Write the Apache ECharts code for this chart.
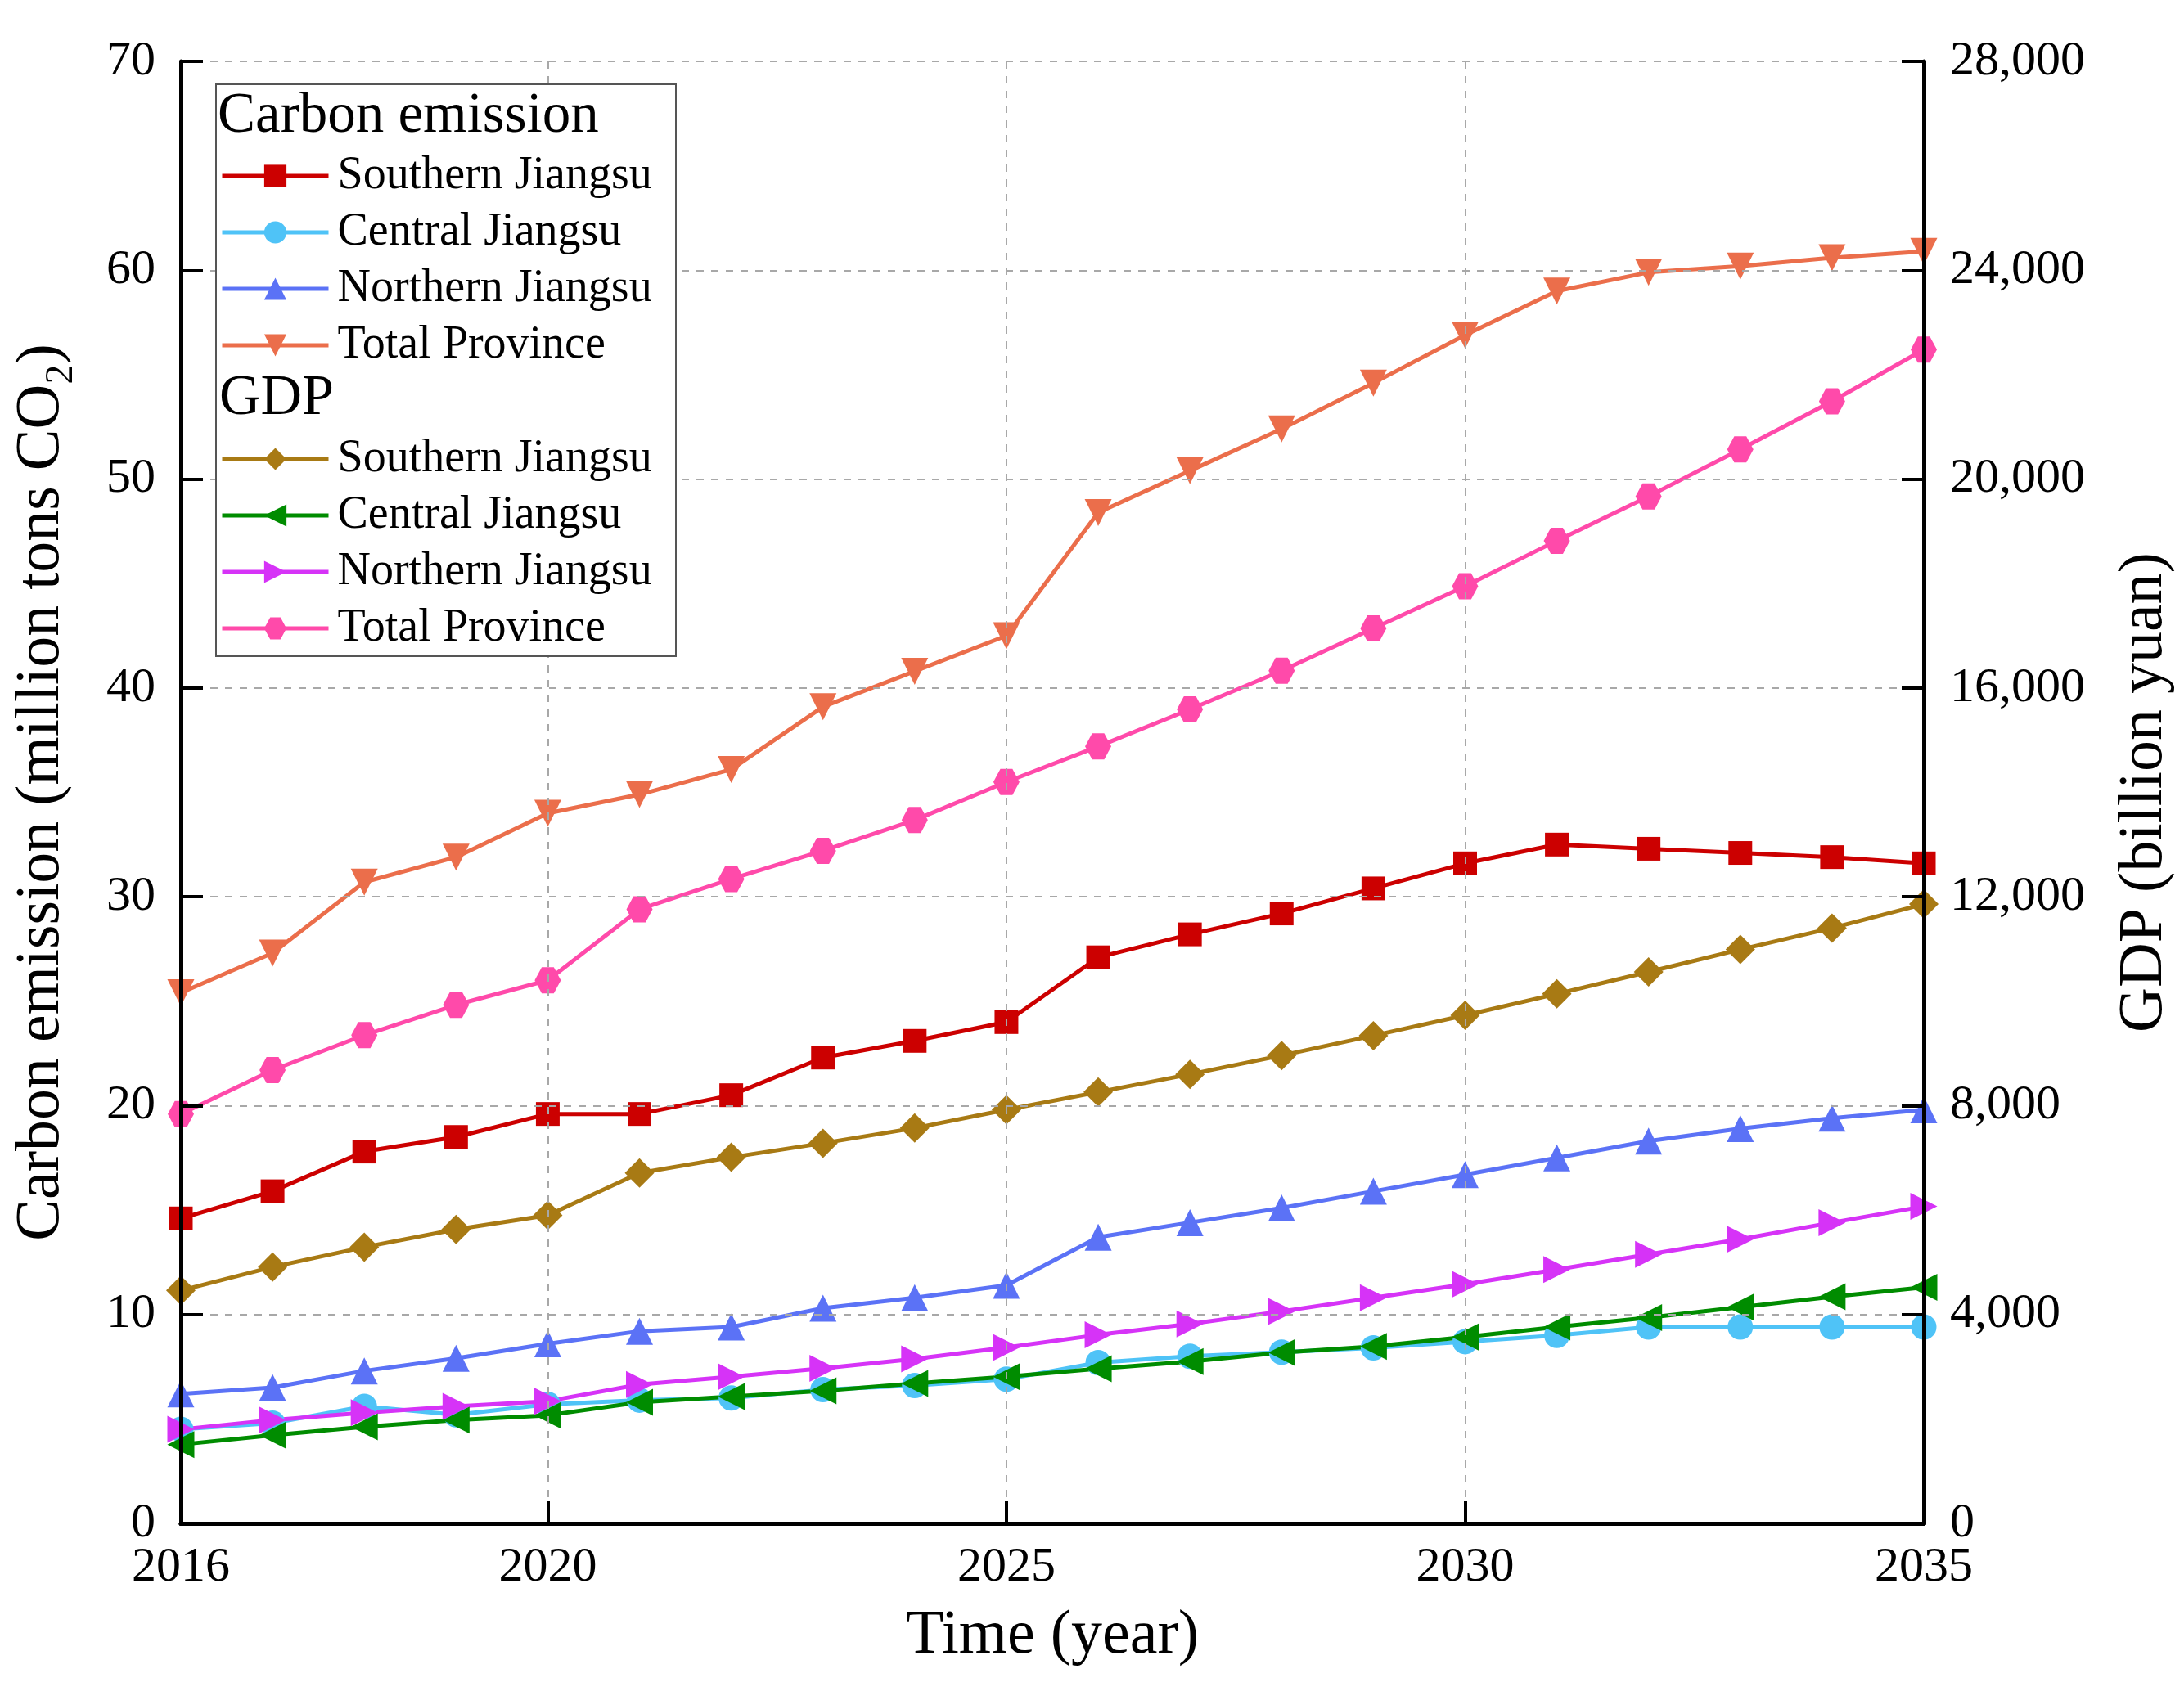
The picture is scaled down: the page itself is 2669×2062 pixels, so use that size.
<!DOCTYPE html>
<html>
<head>
<meta charset="utf-8">
<script src="https://cdn.jsdelivr.net/npm/echarts@6/dist/echarts.min.js"></script>
<style>html,body{margin:0;padding:0;background:#fff}#c{width:2669px;height:2062px}</style>
</head>
<body>
<div id="c"></div>
<script>
const years = ['2016','2017','2018','2019','2020','2021','2022','2023','2024','2025','2026','2027','2028','2029','2030','2031','2032','2033','2034','2035'];
const labeledYears = ['2016','2020','2025','2030','2035'];

// Carbon emission (million tons CO2)
const carbonSouth = [14.6, 15.9, 17.8, 18.5, 19.6, 19.6, 20.5, 22.3, 23.1, 24.0, 27.1, 28.2, 29.2, 30.4, 31.6, 32.5, 32.3, 32.1, 31.9, 31.6];
const carbonCentral = [4.5, 4.8, 5.6, 5.2, 5.7, 5.9, 6.0, 6.4, 6.6, 6.9, 7.7, 8.0, 8.2, 8.4, 8.7, 9.0, 9.4, 9.4, 9.4, 9.4];
const carbonNorth = [6.2, 6.5, 7.3, 7.9, 8.6, 9.2, 9.4, 10.3, 10.8, 11.4, 13.7, 14.4, 15.1, 15.9, 16.7, 17.5, 18.3, 18.9, 19.4, 19.8];
const carbonTotal = [25.4, 27.3, 30.7, 31.9, 34.0, 34.9, 36.1, 39.1, 40.8, 42.5, 48.4, 50.4, 52.4, 54.6, 56.9, 59.0, 59.9, 60.2, 60.6, 60.9];

// GDP (billion yuan)
const gdpSouth = [4460, 4910, 5290, 5630, 5900, 6710, 7010, 7280, 7570, 7920, 8260, 8600, 8960, 9340, 9730, 10140, 10560, 10990, 11400, 11860];
const gdpCentral = [1510, 1690, 1850, 1980, 2070, 2320, 2430, 2540, 2680, 2810, 2960, 3100, 3270, 3390, 3570, 3760, 3940, 4140, 4340, 4520];
const gdpNorth = [1800, 1980, 2120, 2240, 2340, 2660, 2810, 2970, 3150, 3370, 3610, 3820, 4060, 4320, 4580, 4860, 5150, 5440, 5760, 6070];
const gdpTotal = [7840, 8680, 9350, 9930, 10400, 11760, 12340, 12880, 13470, 14200, 14880, 15590, 16330, 17140, 17950, 18820, 19670, 20570, 21490, 22480];

const leftTicks = [0, 10, 20, 30, 40, 50, 60, 70];
const rightTicks = [0, 4000, 8000, 12000, 16000, 20000, 24000, 28000];

const FONT = '"Liberation Serif", "Times New Roman", serif';
const hexagon = 'path://M0,500 L270,0 L730,0 L1000,500 L730,1000 L270,1000 Z';

function mk(name, data, color, symbol, rotate, axis, size) {
  return {
    name: name, type: 'line', data: data, yAxisIndex: axis,
    symbol: symbol, symbolRotate: rotate, symbolSize: size, showSymbol: true,
    lineStyle: {color: color, width: 5},
    itemStyle: {color: color, borderWidth: 0},
    emphasis: {disabled: true},
    z: 3,
    animation: false
  };
}

const series = [
  mk('Southern Jiangsu', carbonSouth, '#CC0000', 'rect', 0, 0, 29),
  mk('Central Jiangsu', carbonCentral, '#4FC3F7', 'circle', 0, 0, 31),
  mk('Northern Jiangsu', carbonNorth, '#5B72F6', 'triangle', 0, 0, 33),
  mk('Total Province', carbonTotal, '#EB6E4B', 'triangle', 180, 0, 33),
  mk('GDP Southern Jiangsu', gdpSouth, '#A87A14', 'diamond', 0, 1, 36),
  mk('GDP Central Jiangsu', gdpCentral, '#008C00', 'triangle', 90, 1, 33),
  mk('GDP Northern Jiangsu', gdpNorth, '#D633F7', 'triangle', -90, 1, 33),
  mk('GDP Total Province', gdpTotal, '#FF4AAA', hexagon, 0, 1, 32)
];

const fmtComma = v => String(v).replace(/\B(?=(\d{3})+(?!\d))/g, ',');
const showYear = (i, v) => labeledYears.indexOf(v) >= 0;

const legendText = {fontFamily: FONT, fontSize: 56, color: '#000', lineHeight: 60, padding: [0, 0, 0, 6]};

const chart = echarts.init(document.getElementById('c'), null, {renderer: 'canvas'});
chart.setOption({
  backgroundColor: '#fff',
  animation: false,
  grid: {left: 221, right: 318, top: 75, bottom: 200, show: false, containLabel: false},
  xAxis: [
    {
      type: 'category', data: years, boundaryGap: false, position: 'bottom',
      axisLine: {lineStyle: {color: '#000', width: 5}},
      axisTick: {inside: true, length: 27, interval: showYear, lineStyle: {color: '#000', width: 4}},
      axisLabel: {interval: showYear, fontFamily: FONT, fontSize: 60, color: '#000', margin: 24},
      splitLine: {show: true, interval: showYear, lineStyle: {color: '#A8A8A8', width: 2, type: [9, 9]}},
      name: 'Time (year)', nameLocation: 'middle', nameGap: 100,
      nameTextStyle: {fontFamily: FONT, fontSize: 76, color: '#000'},
      z: 5
    },
    {
      type: 'category', data: years, boundaryGap: false, position: 'top',
      axisLine: {show: true, lineStyle: {color: '#000', width: 5}},
      axisTick: {show: false}, axisLabel: {show: false}, splitLine: {show: false},
      z: 5
    }
  ],
  yAxis: [
    {
      type: 'value', min: leftTicks[0], max: leftTicks[leftTicks.length - 1], interval: 10, position: 'left',
      axisLine: {show: true, lineStyle: {color: '#000', width: 5}},
      axisTick: {show: true, inside: true, length: 27, lineStyle: {color: '#000', width: 4}},
      axisLabel: {fontFamily: FONT, fontSize: 60, color: '#000', margin: 31},
      splitLine: {show: true, lineStyle: {color: '#A8A8A8', width: 2, type: [9, 9]}},
      name: '{a|Carbon emission (million tons CO}{b|2}{a|)}', nameLocation: 'middle', nameRotate: 90, nameGap: 122,
      nameTextStyle: {
        rich: {
          a: {fontFamily: FONT, fontSize: 76, color: '#000', lineHeight: 96, verticalAlign: 'middle'},
          b: {fontFamily: FONT, fontSize: 48, color: '#000', lineHeight: 96, verticalAlign: 'bottom'}
        }
      },
      z: 5
    },
    {
      type: 'value', min: rightTicks[0], max: rightTicks[rightTicks.length - 1], interval: 4000, position: 'right',
      axisLine: {show: true, lineStyle: {color: '#000', width: 5}},
      axisTick: {show: true, inside: true, length: 27, lineStyle: {color: '#000', width: 4}},
      axisLabel: {fontFamily: FONT, fontSize: 60, color: '#000', margin: 32, formatter: fmtComma},
      splitLine: {show: false},
      name: 'GDP (billion yuan)', nameLocation: 'middle', nameRotate: 90, nameGap: 232,
      nameTextStyle: {fontFamily: FONT, fontSize: 76, color: '#000'},
      z: 5
    }
  ],
  legend: [
    {
      orient: 'vertical', left: 264, top: 180, itemWidth: 130, itemHeight: 34, itemGap: 9,
      selectedMode: false, z: 100,
      lineStyle: {width: 5},
      data: ['Southern Jiangsu', 'Central Jiangsu', 'Northern Jiangsu', 'Total Province'],
      textStyle: legendText
    },
    {
      orient: 'vertical', left: 264, top: 526, itemWidth: 130, itemHeight: 34, itemGap: 9,
      selectedMode: false, z: 100,
      lineStyle: {width: 5},
      data: ['GDP Southern Jiangsu', 'GDP Central Jiangsu', 'GDP Northern Jiangsu', 'GDP Total Province'],
      formatter: n => n.replace(/^GDP /, ''),
      textStyle: legendText
    }
  ],
  graphic: [
    {type: 'rect', z: 50, shape: {x: 264, y: 103, width: 562, height: 699},
     style: {fill: '#fff', stroke: '#555', lineWidth: 2}},
    {type: 'text', z: 95, x: 266, y: 143,
     style: {text: 'Carbon emission', fontFamily: FONT, fontSize: 69, fill: '#000', verticalAlign: 'middle', align: 'left'}},
    {type: 'text', z: 95, x: 268, y: 488,
     style: {text: 'GDP', fontFamily: FONT, fontSize: 70, fill: '#000', verticalAlign: 'middle', align: 'left'}}
  ],
  series: series
});
</script>
</body>
</html>
